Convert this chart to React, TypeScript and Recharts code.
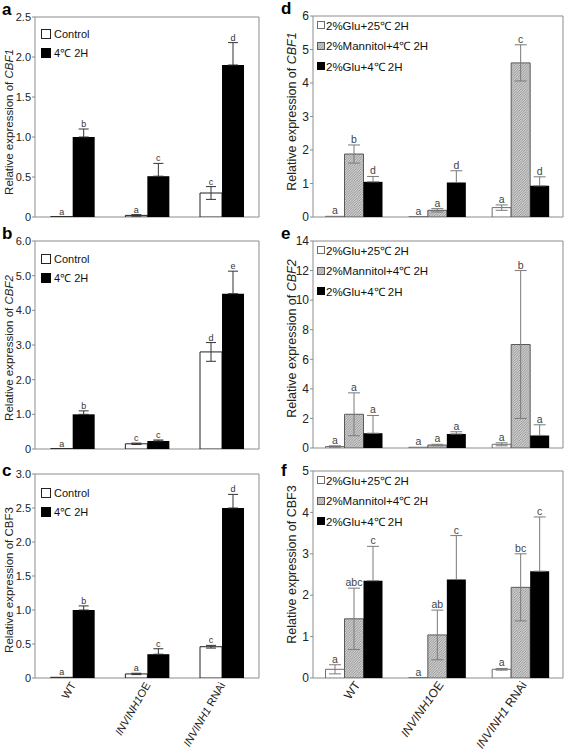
import React from "react";
import {
  Bar,
  BarChart,
  ErrorBar,
  LabelList,
  Legend,
  ReferenceArea,
  XAxis,
  YAxis,
} from "recharts";

const FONT = '"Liberation Sans", Arial, Helvetica, sans-serif';

const genotypes = ["WT", "INVINH1OE", "INVINH1 RNAi"];

// a–c: Control vs 4℃ 2H
const cbf1Control = [0.004, 0.02, 0.3];
const cbf1ControlErr = [null, 0.01, 0.08];
const cbf1ControlSig = ["a", "a", "c"];
const cbf1Cold = [1.0, 0.51, 1.9];
const cbf1ColdErr = [0.1, 0.16, 0.28];
const cbf1ColdSig = ["b", "c", "d"];

const cbf2Control = [0.01, 0.15, 2.8];
const cbf2ControlErr = [null, 0.02, 0.27];
const cbf2ControlSig = ["a", "c", "d"];
const cbf2Cold = [1.0, 0.23, 4.48];
const cbf2ColdErr = [0.1, 0.03, 0.65];
const cbf2ColdSig = ["b", "c", "e"];

const cbf3Control = [0.01, 0.06, 0.46];
const cbf3ControlErr = [null, 0.01, 0.02];
const cbf3ControlSig = ["a", "a", "c"];
const cbf3Cold = [1.0, 0.35, 2.5];
const cbf3ColdErr = [0.06, 0.08, 0.2];
const cbf3ColdSig = ["b", "c", "d"];

// d–f: 2%Glu+25℃ / 2%Mannitol+4℃ / 2%Glu+4℃
const d1Glu25 = [0.02, 0.01, 0.28];
const d1Glu25Err = [null, null, 0.08];
const d1Glu25Sig = ["a", "a", "a"];
const d1Man = [1.88, 0.2, 4.6];
const d1ManErr = [0.27, 0.05, 0.54];
const d1ManSig = ["b", "a", "c"];
const d1Glu4 = [1.05, 1.03, 0.93];
const d1Glu4Err = [0.16, 0.35, 0.27];
const d1Glu4Sig = ["d", "d", "d"];

const e2Glu25 = [0.1, 0.05, 0.25];
const e2Glu25Err = [0.05, null, 0.1];
const e2Glu25Sig = ["a", "a", "a"];
const e2Man = [2.28, 0.2, 7.0];
const e2ManErr = [1.45, 0.05, 5.0];
const e2ManSig = ["a", "a", "b"];
const e2Glu4 = [1.0, 0.95, 0.85];
const e2Glu4Err = [1.2, 0.15, 0.72];
const e2Glu4Sig = ["a", "a", "a"];

const f3Glu25 = [0.21, 0.01, 0.21];
const f3Glu25Err = [0.11, null, 0.02];
const f3Glu25Sig = ["a", "a", "a"];
const f3Man = [1.43, 1.04, 2.19];
const f3ManErr = [0.74, 0.6, 0.81];
const f3ManSig = ["abc", "ab", "bc"];
const f3Glu4 = [2.35, 2.38, 2.58];
const f3Glu4Err = [0.83, 1.06, 1.31];
const f3Glu4Sig = ["c", "c", "c"];

const ticksA = [0, 0.5, 1, 1.5, 2, 2.5];
const ticksB = [0, 1, 2, 3, 4, 5, 6];
const ticksC = [0, 0.5, 1, 1.5, 2, 2.5, 3];
const ticksD = [0, 1, 2, 3, 4, 5, 6];
const ticksE = [0, 2, 4, 6, 8, 10, 12, 14];
const ticksF = [0, 1, 2, 3, 4, 5];

type Kind = "open" | "hatch" | "solid";

interface Series {
  key: string;
  name: string;
  values: number[];
  errs: (number | null)[];
  sig: string[];
  kind: Kind;
}

interface Layout {
  top: number;
  left: number;
  width: number;
  height: number;
  margin: { top: number; right: number; bottom: number; left: number };
  yWidth: number;
  xHeight: number;
}

const FRAME = "#8c8c8c";

function mk(key: string, name: string, values: number[], errs: (number | null)[], sig: string[], kind: Kind): Series {
  return { key, name, values, errs, sig, kind };
}

function buildRows(series: Series[]) {
  return genotypes.map((g, i) => {
    const row: Record<string, unknown> = { genotype: g };
    series.forEach((s) => {
      const e = s.errs[i];
      row[s.key] = s.values[i];
      // whiskers on solid bars are only visible above the bar
      row[`${s.key}Err`] = e == null ? null : s.kind === "solid" ? [0, e] : e;
      row[`${s.key}Sig`] = s.sig[i];
    });
    return row;
  });
}

function YTitle({ viewBox, gene, italic, titleX, titleDy, titleSize }: any) {
  const cy = viewBox.y + viewBox.height / 2 + titleDy;
  return (
    <text
      x={titleX}
      y={cy}
      transform={`rotate(-90, ${titleX}, ${cy})`}
      textAnchor="middle"
      dominantBaseline="central"
      fontSize={titleSize}
      fill="#222"
    >
      Relative expression of{" "}
      <tspan fontStyle={italic ? "italic" : "normal"}>{gene}</tspan>
    </text>
  );
}

function GenotypeTick({ x, y, payload, labelSize, labelAngle, labelDx, labelDy }: any) {
  const label: string = payload.value;
  const m = label.match(/^(INVINH1)(.*)$/);
  const tx = x + labelDx;
  const ty = y + labelDy;
  return (
    <text
      x={tx}
      y={ty}
      transform={`rotate(${labelAngle}, ${tx}, ${ty})`}
      textAnchor="end"
      fontSize={labelSize}
      fill="#222"
    >
      {m ? (
        <>
          <tspan fontStyle="italic">{m[1]}</tspan>
          <tspan>{m[2]}</tspan>
        </>
      ) : (
        label
      )}
    </text>
  );
}

function Panel({
  id,
  layout,
  series,
  yMax,
  yTicks,
  decimals,
  gene,
  italic,
  glu,
  xLabels,
  legendTop,
  legendLeft,
  titleX,
  titleDy,
}: {
  id: string;
  layout: Layout;
  series: Series[];
  yMax: number;
  yTicks: number[];
  decimals: number;
  gene: string;
  italic: boolean;
  glu: boolean;
  xLabels?: { labelSize: number; labelAngle: number; labelDx: number; labelDy: number };
  legendTop: number;
  legendLeft: number;
  titleX: number;
  titleDy: number;
}) {
  const rows = buildRows(series);
  const { margin, height, xHeight } = layout;
  const plotH = height - margin.top - margin.bottom - xHeight;
  const ppu = plotH / yMax;
  const hatchId = `hatch-${id}`;

  const fillFor = (k: Kind) => (k === "open" ? "#fff" : k === "solid" ? "#000" : `url(#${hatchId})`);
  const strokeFor = (k: Kind) => (k === "open" ? (glu ? "#6e6e6e" : "#222") : k === "hatch" ? "#5a5a5a" : "none");
  const errColor = glu ? "#7a7a7a" : "#333";
  const sigSize = glu ? 10.5 : 9;
  const sw = glu ? 7 : 9;
  const rowH = glu ? 20.5 : 19;

  const sigContent = (s: Series) => (props: any) => {
    const { viewBox, index } = props;
    if (!viewBox) return null;
    const e = s.errs[index] ?? 0;
    const cx = viewBox.x + viewBox.width / 2;
    const y = viewBox.y - e * ppu - 2;
    return (
      <text x={cx} y={y} textAnchor="middle" fontSize={sigSize} fill={glu ? "#444" : "#333"}>
        {s.sig[index]}
      </text>
    );
  };

  return (
    <div style={{ position: "absolute", top: layout.top, left: layout.left }}>
      <BarChart
        width={layout.width}
        height={layout.height}
        data={rows}
        margin={margin}
        barCategoryGap={glu ? "15%" : "21%"}
        barGap={0}
      >
        <defs>
          <pattern id={hatchId} width={2.5} height={2.5} patternUnits="userSpaceOnUse">
            <rect width={2.5} height={2.5} fill="#cfcfcf" />
            <path d="M-1,1 L1,-1 M0,2.5 L2.5,0 M1.5,3.5 L3.5,1.5" stroke="#8a8a8a" strokeWidth={0.8} />
          </pattern>
        </defs>
        <XAxis
          xAxisId="bounds"
          type="number"
          domain={[0, 3]}
          ticks={glu ? [0, 1, 2, 3] : [1, 2]}
          tick={false}
          axisLine={false}
          tickLine={{ stroke: FRAME }}
          tickSize={4}
          mirror={!glu}
          height={0}
        />
        <XAxis
          dataKey="genotype"
          axisLine={false}
          tickLine={false}
          tickSize={0}
          tickMargin={0}
          interval={0}
          height={xHeight}
          tick={xLabels ? (p: any) => <GenotypeTick {...p} {...xLabels} /> : false}
        />
        <YAxis
          domain={[0, yMax]}
          ticks={yTicks}
          allowDataOverflow
          width={layout.yWidth}
          axisLine={false}
          tickLine={{ stroke: FRAME }}
          tickSize={3}
          tickMargin={1}
          tick={{ fontSize: glu ? 12 : 11, fill: "#222" }}
          tickFormatter={(v: number) => (v === 0 ? "0" : v.toFixed(decimals))}
          label={
            <YTitle
              gene={gene}
              italic={italic}
              titleX={titleX}
              titleDy={titleDy}
              titleSize={glu ? 12.5 : 11.5}
            />
          }
        />
        <ReferenceArea y1={0} y2={yMax} fill="none" stroke={FRAME} strokeWidth={1} ifOverflow="visible" />
        {series.map((s) => (
          <Bar
            key={s.key}
            dataKey={s.key}
            name={s.name}
            fill={fillFor(s.kind)}
            stroke={strokeFor(s.kind)}
            strokeWidth={1}
            isAnimationActive={false}
          >
            <ErrorBar dataKey={`${s.key}Err`} width={glu ? 6 : 5} stroke={errColor} strokeWidth={1} direction="y" />
            <LabelList dataKey={`${s.key}Sig`} content={sigContent(s)} />
          </Bar>
        ))}
        <Legend
          layout="vertical"
          align="center"
          verticalAlign="middle"
          wrapperStyle={{ top: legendTop, left: legendLeft, width: "auto" }}
          content={() => (
            <div style={{ fontFamily: FONT, fontSize: glu ? 11.5 : 11, color: "#111" }}>
              {series.map((s) => (
                <div key={s.key} style={{ display: "flex", alignItems: "center", height: rowH, whiteSpace: "nowrap" }}>
                  <svg width={sw + 1} height={sw + 1} style={{ display: "block" }}>
                    <rect
                      x={0.5}
                      y={0.5}
                      width={sw}
                      height={sw}
                      fill={fillFor(s.kind)}
                      stroke={s.kind === "solid" ? "#000" : strokeFor(s.kind)}
                    />
                  </svg>
                  <span style={{ marginLeft: glu ? 1 : 3 }}>{s.name}</span>
                </div>
              ))}
            </div>
          )}
        />
      </BarChart>
    </div>
  );
}

const leftCol = (top: number, height: number, mTop: number, mBottom: number, xHeight: number): Layout => ({
  top,
  left: 0,
  width: 270,
  height,
  margin: { top: mTop, right: 11, bottom: mBottom, left: 5 },
  yWidth: 30,
  xHeight,
});

const rightCol = (top: number, height: number, mTop: number, mBottom: number, xHeight: number): Layout => ({
  top,
  left: 285,
  width: 282,
  height,
  margin: { top: mTop, right: 4, bottom: mBottom, left: 6 },
  yWidth: 22,
  xHeight,
});

const coldSeries = (c: number[], ce: (number | null)[], cs: string[], k: number[], ke: (number | null)[], ks: string[]) => [
  mk("control", "Control", c, ce, cs, "open"),
  mk("cold", "4℃ 2H", k, ke, ks, "solid"),
];

const gluSeries = (
  a: number[], ae: (number | null)[], as: string[],
  m: number[], me: (number | null)[], ms: string[],
  g: number[], ge: (number | null)[], gs: string[],
) => [
  mk("glu25", "2%Glu+25℃ 2H", a, ae, as, "open"),
  mk("man", "2%Mannitol+4℃ 2H", m, me, ms, "hatch"),
  mk("glu4", "2%Glu+4℃ 2H", g, ge, gs, "solid"),
];

function PanelLetter({ x, y, children }: { x: number; y: number; children: string }) {
  return (
    <div
      style={{
        position: "absolute",
        left: x,
        top: y,
        fontFamily: FONT,
        fontWeight: "bold",
        fontSize: 17,
        lineHeight: "17px",
        color: "#000",
      }}
    >
      {children}
    </div>
  );
}

export default function App() {
  return (
    <div
      style={{
        position: "absolute",
        left: 0,
        top: 0,
        width: 567,
        height: 752,
        background: "#fff",
        fontFamily: FONT,
        overflow: "hidden",
      }}
    >
      <Panel
        id="a"
        layout={leftCol(0, 225, 17, 8, 0)}
        series={coldSeries(cbf1Control, cbf1ControlErr, cbf1ControlSig, cbf1Cold, cbf1ColdErr, cbf1ColdSig)}
        yMax={2.5}
        yTicks={ticksA}
        decimals={1}
        gene="CBF1"
        italic
        glu={false}
        legendTop={24}
        legendLeft={41}
        titleX={9}
        titleDy={5}
      />
      <Panel
        id="b"
        layout={leftCol(225, 232, 16, 8, 0)}
        series={coldSeries(cbf2Control, cbf2ControlErr, cbf2ControlSig, cbf2Cold, cbf2ColdErr, cbf2ColdSig)}
        yMax={6}
        yTicks={ticksB}
        decimals={1}
        gene="CBF2"
        italic
        glu={false}
        legendTop={24}
        legendLeft={41}
        titleX={9}
        titleDy={3}
      />
      <Panel
        id="c"
        layout={leftCol(457, 295, 17, 0, 74)}
        series={coldSeries(cbf3Control, cbf3ControlErr, cbf3ControlSig, cbf3Cold, cbf3ColdErr, cbf3ColdSig)}
        yMax={3}
        yTicks={ticksC}
        decimals={1}
        gene="CBF3"
        italic={false}
        glu={false}
        xLabels={{ labelSize: 11, labelAngle: -60, labelDx: 4, labelDy: 7 }}
        legendTop={26}
        legendLeft={41}
        titleX={9}
        titleDy={4}
      />
      <Panel
        id="d"
        layout={rightCol(0, 225, 16, 8, 0)}
        series={gluSeries(d1Glu25, d1Glu25Err, d1Glu25Sig, d1Man, d1ManErr, d1ManSig, d1Glu4, d1Glu4Err, d1Glu4Sig)}
        yMax={6}
        yTicks={ticksD}
        decimals={0}
        gene="CBF1"
        italic
        glu
        legendTop={15}
        legendLeft={32}
        titleX={7}
        titleDy={-5}
      />
      <Panel
        id="e"
        layout={rightCol(225, 232, 16, 9, 0)}
        series={gluSeries(e2Glu25, e2Glu25Err, e2Glu25Sig, e2Man, e2ManErr, e2ManSig, e2Glu4, e2Glu4Err, e2Glu4Sig)}
        yMax={14}
        yTicks={ticksE}
        decimals={0}
        gene="CBF2"
        italic
        glu
        legendTop={15}
        legendLeft={32}
        titleX={7}
        titleDy={-6}
      />
      <Panel
        id="f"
        layout={rightCol(457, 295, 14, 0, 74)}
        series={gluSeries(f3Glu25, f3Glu25Err, f3Glu25Sig, f3Man, f3ManErr, f3ManSig, f3Glu4, f3Glu4Err, f3Glu4Sig)}
        yMax={5}
        yTicks={ticksF}
        decimals={0}
        gene="CBF3"
        italic={false}
        glu
        xLabels={{ labelSize: 12, labelAngle: -55, labelDx: 6, labelDy: 7 }}
        legendTop={13}
        legendLeft={32}
        titleX={7}
        titleDy={-10}
      />
      <PanelLetter x={2} y={1}>a</PanelLetter>
      <PanelLetter x={2} y={225}>b</PanelLetter>
      <PanelLetter x={2} y={462}>c</PanelLetter>
      <PanelLetter x={281} y={0}>d</PanelLetter>
      <PanelLetter x={281} y={225}>e</PanelLetter>
      <PanelLetter x={281} y={462}>f</PanelLetter>
    </div>
  );
}
